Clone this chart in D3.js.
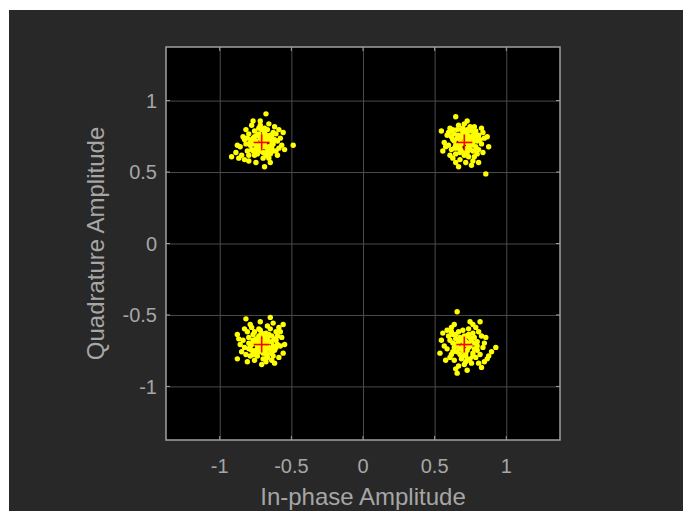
<!DOCTYPE html>
<html>
<head>
<meta charset="utf-8">
<script src="https://cdn.jsdelivr.net/npm/d3@7"></script>
<style>
  body { margin: 0; background: #ffffff; }
  svg { display: block; }
  text { font-family: Arial, "Liberation Sans", Helvetica, sans-serif; fill: #a6a6a6; }
</style>
</head>
<body>
<svg></svg>
<script>
var width = 684;
var height = 511;

// plot box inside the dark figure
var boxLeft = 166, boxRight = 560, boxTop = 47, boxBottom = 440;

var ticks = [-1, -0.5, 0, 0.5, 1];
var tickLabels = ['-1', '-0.5', '0', '0.5', '1'];

// ideal QPSK reference points
var refI = [-0.7071, 0.7071, -0.7071, 0.7071];
var refQ = [0.7071, 0.7071, -0.7071, -0.7071];

// received symbols, offsets from each reference point (hundredths)
var upperLeft = [
  [0,0],[3,2],[-4,1],[5,-3],[-2,-5],[7,4],[-6,3],[2,7],[-3,-8],[8,-1],
  [-8,-2],[4,9],[-1,12],[10,6],[-10,-6],[6,-8],[-5,8],[12,-4],[-12,2],[1,-11],
  [3,20],[-1,15],[-7,12],[9,11],[14,-2],[-14,-9],[-21,-10],[-16,-11],[-18,-7],[-9,-13],
  [-4,-14],[2,-17],[6,-14],[11,-9],[16,-5],[22,-2],[12,9],[-11,9],[-13,4],[5,13],
  [-6,-1],[1,4],[4,-6],[-3,5],[6,1],[-7,-5],[9,2],[-2,-2],[2,-3],[-5,-9],
  [8,7],[-9,6],[13,3],[-15,-3],[0,9],[-1,-6],[10,-6],[-11,-1],[4,4],[-4,-4],
  [7,-4],[-8,0],[3,-9],[-2,10],[15,7],[-17,-2],[5,-11],[-6,15],[11,1],[-12,-12],
  [1,1],[-1,3],[2,-1],[-3,-2],[4,2],[-5,4],[3,5],[0,-3],[5,-5],[-6,-6],
  [1,-7],[-2,6],[6,5],[-7,2],[7,-2],[-4,-6],[2,10],[-9,-9],[8,-6],[-10,3]
];
var upperRight = [
  [0,0],[-3,2],[4,-1],[-5,-4],[2,6],[6,3],[-7,1],[1,-7],[8,-3],[-2,9],
  [-6,-8],[5,8],[10,5],[-9,4],[3,-10],[-11,-2],[9,-8],[-4,12],[12,-1],[0,13],
  [-6,18],[-16,8],[-13,-3],[-10,10],[15,-22],[10,-14],[-4,-17],[-3,-12],[17,-3],[13,7],
  [7,11],[-8,-11],[1,-14],[11,2],[-12,5],[6,-6],[-1,4],[3,1],[-4,-2],[2,-4],
  [5,4],[-7,6],[8,8],[-9,-5],[0,-9],[4,11],[-2,-6],[9,1],[-5,3],[7,-10],
  [-14,0],[12,10],[6,-13],[-10,-9],[14,3],[-1,10],[3,-2],[-3,-4],[1,7],[10,-5],
  [-8,9],[5,-16],[-11,7],[13,-7],[2,15],[-6,-14],[16,4],[-15,-6],
  [1,2],[-2,-1],[3,4],[-4,5],[5,-2],[-6,-2],[2,-7],[-1,7],[7,6],[-8,2],
  [4,-5],[-3,-7],[6,0],[-5,9],[9,4],[-7,-4],[0,5],[8,-6],[-9,8],[2,9]
];
var lowerLeft = [
  [0,0],[2,3],[-3,-1],[5,-2],[-4,4],[1,-6],[7,2],[-7,-4],[3,8],[-6,7],
  [9,-4],[-9,1],[4,-9],[-2,11],[11,6],[-11,-7],[6,11],[-5,-11],[13,-1],[-13,3],
  [-11,18],[6,19],[15,14],[16,0],[-17,7],[-17,-10],[0,-14],[9,-13],[-8,14],[12,-9],
  [-14,-5],[10,9],[-1,16],[14,5],[-3,-8],[2,-2],[-5,1],[4,5],[-1,3],[6,-6],
  [-8,-1],[8,-8],[-10,9],[3,-12],[11,0],[-12,11],[7,6],[-6,-7],[0,8],[-2,-5],
  [5,2],[-4,-4],[9,4],[-9,-3],[12,12],[-7,12],[15,-6],[-15,0],[1,-10],[-10,-12],
  [7,-11],[-5,9],[10,-2],[13,9],[-12,-2],[4,13],[-16,4],[8,15],
  [1,1],[-1,-2],[3,-4],[-2,6],[4,1],[-6,3],[2,6],[-4,-7],[6,-3],[-7,0],
  [0,-4],[5,7],[-3,2],[8,-1],[-9,5],[3,-7],[-1,10],[7,-6],[-8,-8],[10,3]
];
var lowerRight = [
  [0,0],[-2,3],[3,-2],[-5,-1],[4,5],[1,-6],[-6,4],[7,-3],[-3,-7],[6,8],
  [-8,-5],[9,2],[-1,10],[2,-11],[-10,3],[11,-7],[-9,9],[5,-13],[12,6],[-12,-3],
  [-5,23],[11,16],[22,-2],[17,-8],[-5,-20],[12,-16],[-16,3],[-17,-6],[15,5],[8,12],
  [-7,14],[-13,-11],[4,16],[14,-12],[-4,-15],[0,3],[3,1],[-3,-3],[6,-6],[-6,0],
  [2,6],[-1,-4],[8,-9],[-8,7],[10,9],[-10,-9],[5,4],[-4,9],[9,-4],[-11,6],
  [1,-8],[7,1],[-7,-11],[13,-2],[0,-14],[-14,-1],[3,11],[16,-10],[-9,12],[10,-13],
  [-2,-10],[6,14],[-12,10],[14,1],[-6,-17],[19,-5],[-15,8],[2,-18],
  [1,2],[-1,-1],[2,-4],[-3,5],[4,-1],[-4,2],[3,7],[-5,-5],[5,3],[-7,-2],
  [0,6],[6,-8],[-2,-8],[7,5],[-8,1],[4,-10],[-6,7],[9,-1],[-9,-7],[1,-12]
];
var clusters = [upperLeft, upperRight, lowerLeft, lowerRight];

var received = [];
clusters.forEach(function(c, k) {
  c.forEach(function(o) {
    received.push({ i: refI[k] + o[0] / 100, q: refQ[k] + o[1] / 100 });
  });
});

var xScale = d3.scaleLinear()
  .domain([-1.375, 1.375])
  .range([boxLeft, boxRight]);

var yScale = d3.scaleLinear()
  .domain([-1.375, 1.375])
  .range([boxBottom, boxTop]);

var svg = d3.select('svg')
  .attr('width', width)
  .attr('height', height);

// dark figure background
svg.append('rect')
  .attr('x', 9)
  .attr('y', 10)
  .attr('width', 674)
  .attr('height', height - 10)
  .attr('fill', '#282828');

svg.append('rect')
  .attr('x', boxLeft)
  .attr('y', boxTop)
  .attr('width', boxRight - boxLeft)
  .attr('height', boxBottom - boxTop)
  .attr('fill', '#000000');

// grid
var xAxis = d3.axisBottom(xScale)
  .tickValues(ticks)
  .tickSize(-(boxBottom - boxTop))
  .tickSizeOuter(0)
  .tickFormat('');

var yAxis = d3.axisLeft(yScale)
  .tickValues(ticks)
  .tickSize(-(boxRight - boxLeft))
  .tickSizeOuter(0)
  .tickFormat('');

svg.append('g')
  .attr('transform', 'translate(0,' + boxBottom + ')')
  .call(xAxis)
  .call(g => g.select('.domain').remove())
  .call(g => g.selectAll('line').attr('stroke', '#4b4b4b').attr('stroke-width', 1));

svg.append('g')
  .attr('transform', 'translate(' + boxLeft + ',0)')
  .call(yAxis)
  .call(g => g.select('.domain').remove())
  .call(g => g.selectAll('line').attr('stroke', '#4b4b4b').attr('stroke-width', 1));

// received symbols
svg.append('g')
  .selectAll('circle')
  .data(received)
  .enter()
  .append('circle')
  .attr('cx', d => xScale(d.i))
  .attr('cy', d => yScale(d.q))
  .attr('r', 2.7)
  .attr('fill', '#ffff00');

// reference markers
var refs = refI.map((v, k) => ({ i: v, q: refQ[k] }));
var plus = svg.append('g')
  .selectAll('g')
  .data(refs)
  .enter()
  .append('g')
  .attr('transform', d => 'translate(' + xScale(d.i) + ',' + yScale(d.q) + ')');
plus.append('line').attr('x1', -8).attr('x2', 8).attr('y1', 0).attr('y2', 0)
  .attr('stroke', '#ff0000').attr('stroke-width', 1.6);
plus.append('line').attr('x1', 0).attr('x2', 0).attr('y1', -8).attr('y2', 8)
  .attr('stroke', '#ff0000').attr('stroke-width', 1.6);

// box + inner tick marks
svg.append('rect')
  .attr('x', boxLeft)
  .attr('y', boxTop)
  .attr('width', boxRight - boxLeft)
  .attr('height', boxBottom - boxTop)
  .attr('fill', 'none')
  .attr('stroke', '#a0a0a0')
  .attr('stroke-width', 1.5);

var tickG = svg.append('g').attr('stroke', '#a0a0a0').attr('stroke-width', 1);
ticks.forEach(function(t) {
  tickG.append('line').attr('x1', xScale(t)).attr('x2', xScale(t)).attr('y1', boxBottom).attr('y2', boxBottom - 4);
  tickG.append('line').attr('x1', xScale(t)).attr('x2', xScale(t)).attr('y1', boxTop).attr('y2', boxTop + 4);
  tickG.append('line').attr('y1', yScale(t)).attr('y2', yScale(t)).attr('x1', boxLeft).attr('x2', boxLeft + 4);
  tickG.append('line').attr('y1', yScale(t)).attr('y2', yScale(t)).attr('x1', boxRight).attr('x2', boxRight - 4);
});

// tick labels
svg.append('g')
  .selectAll('text')
  .data(ticks)
  .enter()
  .append('text')
  .attr('x', d => xScale(d))
  .attr('y', 473)
  .style('font-size', '20px')
  .style('text-anchor', 'middle')
  .text((d, k) => tickLabels[k]);

svg.append('g')
  .selectAll('text')
  .data(ticks)
  .enter()
  .append('text')
  .attr('x', 157)
  .attr('y', d => yScale(d))
  .attr('dy', '0.36em')
  .style('font-size', '20px')
  .style('text-anchor', 'end')
  .text((d, k) => tickLabels[k]);

// axis titles
svg.append('text')
  .attr('x', (boxLeft + boxRight) / 2)
  .attr('y', 505)
  .style('font-size', '24px')
  .style('text-anchor', 'middle')
  .text('In-phase Amplitude');

svg.append('text')
  .attr('transform', 'translate(104,' + (boxTop + boxBottom) / 2 + ') rotate(-90)')
  .style('font-size', '24px')
  .style('text-anchor', 'middle')
  .text('Quadrature Amplitude');
</script>
</body>
</html>
